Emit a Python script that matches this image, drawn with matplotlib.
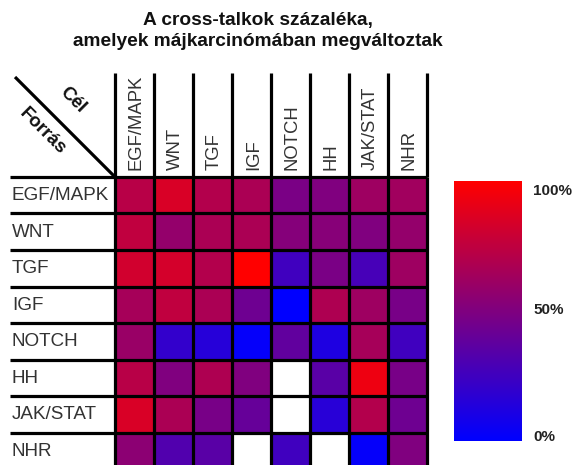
import numpy as np
import matplotlib
matplotlib.use("Agg")
import matplotlib.pyplot as plt
from matplotlib.colors import LinearSegmentedColormap

plt.rcParams['font.family'] = ['Liberation Sans', 'DejaVu Sans']

# Pathways: rows are the source (Forrás), columns the target (Cél)
pathways = ["EGF/MAPK", "WNT", "TGF", "IGF", "NOTCH", "HH", "JAK/STAT", "NHR"]

# Percentage of altered cross-talks in hepatocellular carcinoma (None = no data)
pct_egf_mapk = [72, 85, 70, 67, 48, 50, 62, 63]
pct_wnt      = [75, 58, 67, 67, 52, 53, 50, 58]
pct_tgf      = [82, 83, 70, 100, 25, 48, 28, 62]
pct_igf      = [65, 75, 67, 43, 0, 68, 62, 47]
pct_notch    = [60, 20, 15, 2, 38, 12, 65, 25]
pct_hh       = [72, 50, 68, 50, None, 35, 93, 47]
pct_jak_stat = [85, 67, 47, 40, None, 16, 70, 43]
pct_nhr      = [55, 32, 35, None, 25, None, 2, 50]

rows = [pct_egf_mapk, pct_wnt, pct_tgf, pct_igf, pct_notch, pct_hh, pct_jak_stat, pct_nhr]
values = np.array([[np.nan if v is None else v for v in r] for r in rows], dtype=float)

cbar_labels = ["100%", "50%", "0%"]

cmap = LinearSegmentedColormap.from_list("blue_red", [(0, 0, 1), (1, 0, 0)])
cmap.set_bad("white")

W, H = 574, 465
fig = plt.figure(figsize=(W / 100, H / 100), dpi=100)

# grid geometry in pixels
gx0, gx1 = 115, 427
gy0 = 177
row_h = 36.5
gy1 = gy0 + row_h * len(pathways)
col_w = (gx1 - gx0) / len(pathways)

ax = fig.add_axes([gx0 / W, 1 - gy1 / H, (gx1 - gx0) / W, (gy1 - gy0) / H])
n = len(pathways)
ax.pcolormesh(np.arange(n + 1), np.arange(n + 1), np.ma.masked_invalid(values),
              cmap=cmap, vmin=0, vmax=100)
ax.set_xlim(0, n)
ax.set_ylim(n, 0)
ax.axis("off")

lw = 2.3
x_lab = (10 - gx0) / col_w          # left end of row-label lines
y_head = (73 - gy0) / row_h         # top of header lines

ax.hlines(np.arange(n + 1), 0, n, color="black", lw=lw, clip_on=False)
ax.vlines(np.arange(n + 1), 0, n, color="black", lw=lw, clip_on=False)
ax.hlines(np.arange(n + 1), x_lab, 0, color="black", lw=lw, clip_on=False)
ax.vlines(np.arange(n + 1), y_head, 0, color="black", lw=lw, clip_on=False)

# diagonal corner
ax.plot([(15 - gx0) / col_w, 0], [(77 - gy0) / row_h, 0], color="black", lw=lw,
        clip_on=False, solid_capstyle="butt")
ax.text((73 - gx0) / col_w, (100 - gy0) / row_h, "Cél", rotation=-45,
        ha="center", va="center", fontsize=13.5, fontweight="bold", color="#111111",
        rotation_mode="anchor")
ax.text((43 - gx0) / col_w, (131 - gy0) / row_h, "Forrás", rotation=-45,
        ha="center", va="center", fontsize=13.5, fontweight="bold", color="#111111",
        rotation_mode="anchor")

for i, name in enumerate(pathways):
    ax.text(i + 0.55, (170 - gy0) / row_h, name, rotation=90, ha="center", va="bottom",
            fontsize=13.3, color="#333333")
    ax.text(x_lab + 0.05, i + 0.52, name, ha="left", va="center",
            fontsize=13.6, color="#333333")

# title
fig.text(258 / W, 1 - 21 / H, "A cross-talkok százaléka,", ha="center", va="center",
         fontsize=13.8, fontweight="bold", color="#111111")
fig.text(258 / W, 1 - 42 / H, "amelyek májkarcinómában megváltoztak", ha="center",
         va="center", fontsize=13.8, fontweight="bold", color="#111111")

# colour scale
cx0, cx1, cy0, cy1 = 454, 522, 181, 441
cax = fig.add_axes([cx0 / W, 1 - cy1 / H, (cx1 - cx0) / W, (cy1 - cy0) / H])
grad = np.linspace(0, 100, 256).reshape(-1, 1)
cax.imshow(grad, cmap=cmap, aspect="auto", origin="lower", extent=[0, 1, 0, 100],
           vmin=0, vmax=100)
cax.set_xticks([])
cax.set_yticks([])
for s in cax.spines.values():
    s.set_visible(False)
for lab, y in zip(cbar_labels, [191, 310, 437]):
    fig.text(533 / W, 1 - y / H, lab, ha="left", va="center", fontsize=11,
             fontweight="bold", color="#222222")

fig.savefig("out.png", dpi=100, facecolor="white")
